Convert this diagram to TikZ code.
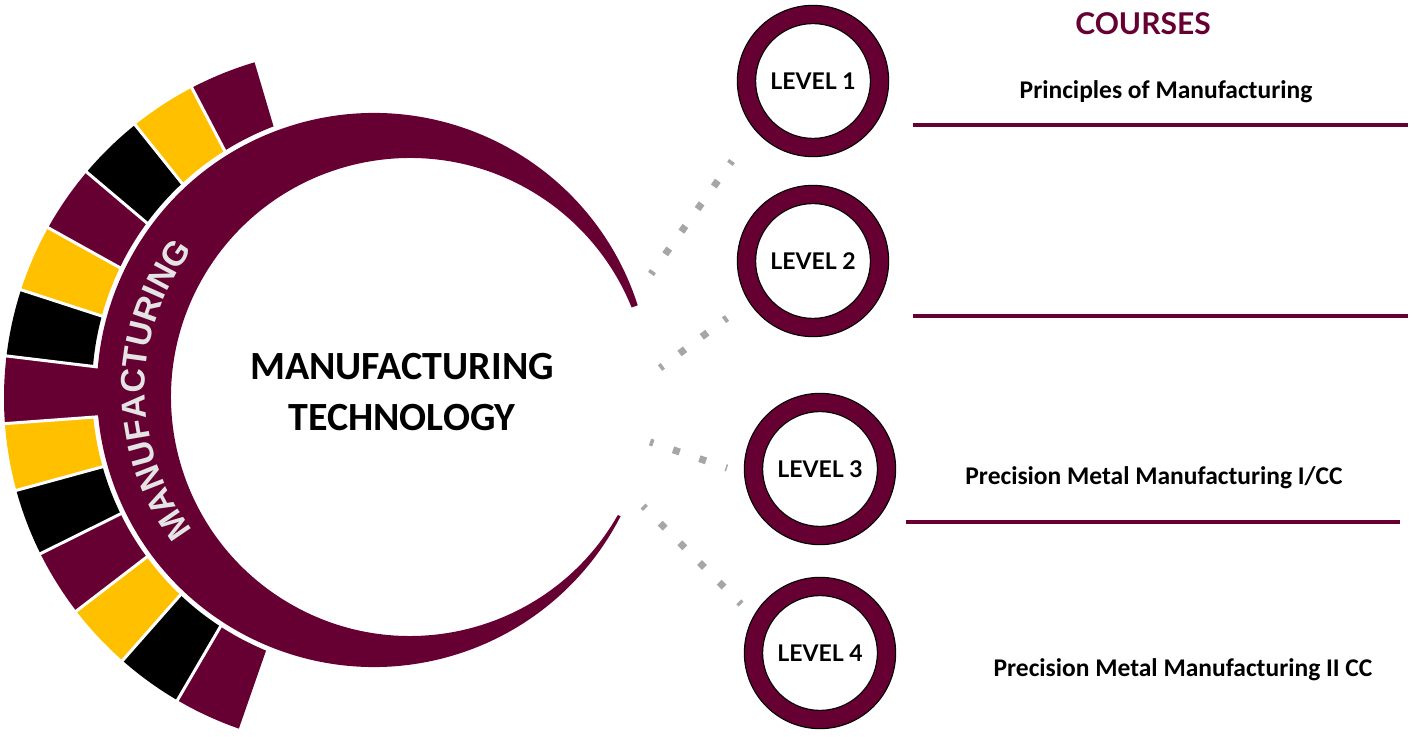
\documentclass[tikz,border=0pt]{standalone}
\usepackage{fontspec}
\setmainfont{Carlito}
\newfontfamily\lvlfont{Lato}
\newfontfamily\arcfont{Liberation Sans}
\usetikzlibrary{calc,decorations.text}

\definecolor{maroon}{RGB}{102,0,51}
\definecolor{gold}{RGB}{255,192,0}
\definecolor{dotgray}{RGB}{166,166,166}
\definecolor{silver}{RGB}{228,228,228}

\tikzset{
  lvlring/.style={circle, draw=black, line width=1.2pt, double=maroon, double distance=17pt,
    fill=white, minimum size=133pt, inner sep=0pt, font=\lvlfont\bfseries\fontsize{23}{23}\selectfont},
  dotline/.style={draw=dotgray, line width=7pt, dash pattern=on 7pt off 20.8pt, dash phase=3.5pt},
  courseline/.style={draw=maroon, line width=4pt},
  course/.style={font=\bfseries\fontsize{25.5}{30}\selectfont},
}

\begin{document}
\begin{tikzpicture}[x=1pt,y=1pt]
\useasboundingbox (0,0) rectangle (1415,736);
\coordinate (S) at (354,338);
\coordinate (O) at (374,346);
\coordinate (I) at (410,339);

% coloured segments round the ring
\foreach \c [count=\k from 0] in {maroon,gold,black,maroon,gold,black,maroon,gold,black,maroon,gold,black,maroon} {
  \pgfmathsetmacro{\a}{106.5+11.1*\k}
  \pgfmathsetmacro{\b}{\a+11.1}
  \pgfmathsetmacro{\rin}{\k==6 ? 250 : 282}
  \begin{scope}
    \clip (S) -- ([shift={(\a:420)}]S) -- ([shift={(\b:420)}]S) -- cycle;
    \fill[\c, even odd rule] (S) circle (350) (O) circle (\rin);
  \end{scope}
}
\foreach \k in {1,...,12}
  \draw[white, line width=3pt] ([shift={({106.5+11.1*\k}:240)}]S) -- ([shift={({106.5+11.1*\k}:360)}]S);

% crescent
\fill[maroon] ([shift={(17.8:277)}]O) arc[start angle=17.8, end angle=332.9, radius=277]
  -- ([shift={(-29.6:239)}]I) arc[start angle=330.4, end angle=22, radius=239] -- cycle;
\path[decorate, decoration={text along path, text align=center, text color=silver,
    text={|\arcfont\bfseries\fontsize{34}{34}\selectfont|MANUFACTURING}}]
  ([shift={(218:229)}]O) arc[start angle=218, end angle=142, radius=229];

\node[align=center, font=\bfseries\fontsize{40}{51}\selectfont] (title) at (402,344) {MANUFACTURING\\TECHNOLOGY};

% levels
\node[lvlring] (L1) at (813,655) {LEVEL 1};
\node[lvlring] (L2) at (813,475) {LEVEL 2};
\node[lvlring] (L3) at (820,267) {LEVEL 3};
\node[lvlring] (L4) at (820,83) {LEVEL 4};

\coordinate (d1s) at (651,462);
\coordinate (d1e) at (732,575);
\coordinate (d2s) at (660,368);
\coordinate (d2e) at (727,418);
\coordinate (d3s) at (650,294);
\coordinate (d3e) at (727,268);
\coordinate (d4s) at (643,230);
\coordinate (d4e) at (741,132);
\draw[dotline] (d1s) -- (d1e);
\draw[dotline] (d2s) -- (d2e);
\draw[dotline] (d3s) -- (d3e);
\draw[dotline] (d4s) -- (d4e);

% courses
\node[font=\lvlfont\bfseries\fontsize{30}{30}\selectfont, text=maroon] (courses) at (1143,712) {COURSES};
\node[course] (c1) at (1166,644) {Principles of Manufacturing};
\node[course] (c3) at (1154,258) {Precision Metal Manufacturing I/CC};
\node[course] (c4) at (1183,66) {Precision Metal Manufacturing II CC};
\coordinate (r1a) at (913,611);
\coordinate (r1b) at (1408,611);
\coordinate (r2a) at (913,420);
\coordinate (r2b) at (1408,420);
\coordinate (r3a) at (906,214);
\coordinate (r3b) at (1400,214);
\draw[courseline] (r1a) -- (r1b);
\draw[courseline] (r2a) -- (r2b);
\draw[courseline] (r3a) -- (r3b);
\end{tikzpicture}
\end{document}
